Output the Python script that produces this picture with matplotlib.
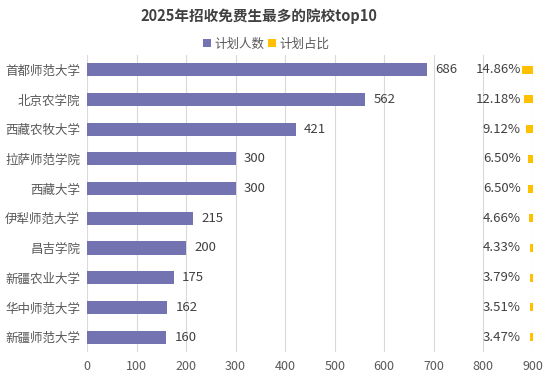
import matplotlib.pyplot as plt

plt.rcParams['font.family'] = ['Noto Sans CJK SC', 'DejaVu Sans']

# data
schools = ["首都师范大学", "北京农学院", "西藏农牧大学", "拉萨师范学院", "西藏大学",
           "伊犁师范大学", "昌吉学院", "新疆农业大学", "华中师范大学", "新疆师范大学"]
plan_counts = [686, 562, 421, 300, 300, 215, 200, 175, 162, 160]
plan_share = [14.86, 12.18, 9.12, 6.50, 6.50, 4.66, 4.33, 3.79, 3.51, 3.47]

purple = "#7473B2"
yellow = "#FFC000"
text_col = "#404040"

fig = plt.figure(figsize=(5.47, 3.76), dpi=100)
ax = fig.add_axes([0.159, 0.064, 0.815, 0.79])

pos = list(range(len(schools)))
ax.barh(pos, plan_counts, height=0.44, color=purple, label="计划人数", zorder=3)
for p, v in zip(pos, plan_counts):
    ax.annotate(str(v), (v, p), xytext=(6, 0), textcoords="offset points",
                va="center", ha="left", fontsize=9.5, color=text_col)

ax.set_xlim(0, 900)
ax.set_ylim(len(schools) - 0.5, -0.5)
ax.set_xticks(range(0, 901, 100))
ax.set_yticks(pos)
ax.set_yticklabels(schools)
ax.tick_params(axis="both", length=0, labelsize=9, colors="#595959")
ax.tick_params(axis="x", pad=6)
ax.tick_params(axis="y", pad=5)
ax.grid(axis="x", color="#D9D9D9", linewidth=0.8, zorder=0)
for s in ax.spines.values():
    s.set_visible(False)

# share on a second, reversed axis growing from the right edge
ax2 = ax.twiny()
ax2.barh(pos, plan_share, height=0.27, color=yellow, label="计划占比", zorder=3)
ax2.set_xlim(600, 0)
ax2.set_ylim(len(schools) - 0.5, -0.5)
ax2.set_xticks([])
for s in ax2.spines.values():
    s.set_visible(False)
for p, v in zip(pos, plan_share):
    ax2.text(0.973, p, f"{v:.2f}%", transform=ax2.get_yaxis_transform(),
             ha="right", va="center", fontsize=9.5, color=text_col)

fig.text(0.474, 0.958, "2025年招收免费生最多的院校top10", ha="center", va="center",
         fontsize=10.5, fontweight="bold", color=text_col)

h1, l1 = ax.get_legend_handles_labels()
h2, l2 = ax2.get_legend_handles_labels()
fig.legend(h1 + h2, l1 + l2, loc="center", bbox_to_anchor=(0.487, 0.883), ncol=2,
           frameon=False, fontsize=9, handlelength=0.6, handleheight=0.6,
           handletextpad=0.3, columnspacing=0.3, labelcolor="#595959")

fig.savefig("out.png", dpi=100)
